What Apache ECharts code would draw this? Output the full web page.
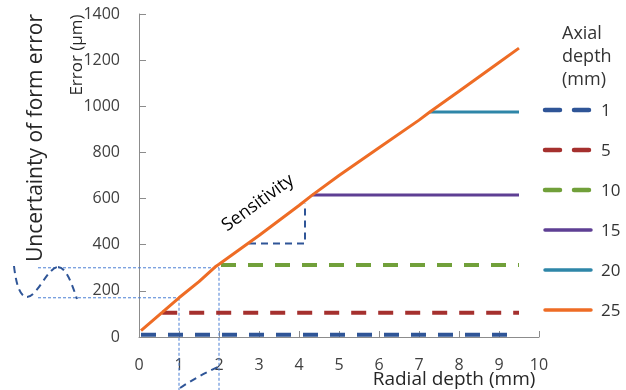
<!DOCTYPE html>
<html>
<head>
<meta charset="utf-8">
<script src="https://cdn.jsdelivr.net/npm/echarts@6/dist/echarts.min.js"></script>
<style>
html,body{margin:0;padding:0;background:#fff;}
#c{width:626px;height:390px;}
</style>
</head>
<body>
<div id="c"></div>
<script>
// ---- data ----
const axialDepths = ['1', '5', '10', '15', '20', '25'];
const seriesColors = ['#2f5597', '#a5302e', '#71a03a', '#5e3f94', '#2e86a8', '#ee6c25'];
const xTicks = [0, 1, 2, 3, 4, 5, 6, 7, 8, 9, 10];
const yTicks = [0, 200, 400, 600, 800, 1000, 1200, 1400];
// axial depth 25 mm: error rises with radial depth
const radialDepth25 = [0.05, 0.58, 1, 1.5, 1.9, 2, 3, 4, 4.33, 5, 6, 7, 7.27, 8, 9, 9.5];
const error25 = [28, 107, 170, 240, 303, 315, 440, 570, 615, 700, 820, 940, 975, 1065, 1190, 1252];
// axial depths 1..20 mm: plateaus
const plateauStartX = [0.05, 0.58, 2.05, 4.33, 7.27];
const plateauEndX = [9.5, 9.5, 9.5, 9.5, 9.5];
const plateauError = [10, 105, 312, 615, 975];
// sensitivity triangle
const triangleX = [2.75, 4.15, 4.15];
const triangleY = [405, 405, 580];
// uncertainty guide points
const guideX = [1, 2];
const guideY = [170, 300];

const FONT = 'Open Sans';
const chart = echarts.init(document.getElementById('c'), null, {renderer: 'canvas'});

const series = [];
for (let i = 0; i < 5; i++) {
  const dashed = i < 3;
  series.push({
    name: axialDepths[i],
    type: 'line',
    symbol: 'none',
    data: [[plateauStartX[i], plateauError[i]], [plateauEndX[i], plateauError[i]]],
    lineStyle: {color: seriesColors[i], width: dashed ? 4 : 3, type: dashed ? [15, 12] : 'solid'},
    itemStyle: {color: seriesColors[i]},
    z: 3
  });
}
series.push({
  name: axialDepths[5],
  type: 'line',
  symbol: 'none',
  data: radialDepth25.map((x, i) => [x, error25[i]]),
  lineStyle: {color: seriesColors[5], width: 3},
  itemStyle: {color: seriesColors[5]},
  z: 5
});
series.push({
  name: 'triangle',
  type: 'line',
  symbol: 'none',
  data: triangleX.map((x, i) => [x, triangleY[i]]),
  lineStyle: {color: '#2f5597', width: 2, type: [7, 5]},
  z: 2,
  silent: true
});

chart.setOption({
  animation: false,
  textStyle: {fontFamily: FONT},
  grid: {left: 139, right: 87, top: 14, bottom: 53, containLabel: false, outerBoundsMode: 'none'},
  legend: {
    data: axialDepths.map(n => ({name: n, icon: 'none'})),
    orient: 'vertical',
    left: 545,
    top: 98,
    itemWidth: 46,
    itemHeight: 17,
    itemGap: 23,
    itemStyle: {opacity: 0},
    textStyle: {fontSize: 17, lineHeight: 17, color: '#333', fontFamily: FONT},
    selectedMode: false
  },
  xAxis: {
    type: 'value', min: 0, max: 10, interval: 1,
    axisLine: {lineStyle: {color: '#8c8c8c', width: 1}},
    axisTick: {show: true, inside: true, length: 6, lineStyle: {color: '#8c8c8c'}},
    splitLine: {show: false},
    axisLabel: {fontSize: 16, color: '#404040', margin: 20, fontFamily: FONT,
      formatter: v => xTicks.includes(v) ? String(v) : ''}
  },
  yAxis: {
    type: 'value', min: 0, max: 1400, interval: 200,
    axisLine: {show: true, lineStyle: {color: '#8c8c8c', width: 1}},
    axisTick: {show: true, inside: true, length: 7, lineStyle: {color: '#8c8c8c'}},
    splitLine: {show: false},
    axisLabel: {fontSize: 16, color: '#404040', margin: 19, fontFamily: FONT,
      formatter: v => yTicks.includes(v) ? String(v) : ''}
  },
  series: series
});

// annotations positioned through the axes
const g = [];
const guideStyle = {stroke: '#4a7fd4', lineWidth: 1, lineDash: [3, 2]};
for (let i = 0; i < guideX.length; i++) {
  const p = chart.convertToPixel({gridIndex: 0}, [guideX[i], guideY[i]]);
  g.push({type: 'line', shape: {x1: 38, y1: p[1], x2: p[0], y2: p[1]}, style: guideStyle, z: 1});
  g.push({type: 'line', shape: {x1: p[0], y1: p[1], x2: p[0], y2: 390}, style: guideStyle, z: 1});
}
// legend keys drawn over legend placeholders
const legendRow0 = 110, legendRowStep = 40;
for (let i = 0; i < axialDepths.length; i++) {
  const dashed = i < 3;
  const y = legendRow0 + i * legendRowStep;
  g.push({type: 'line', shape: {x1: 545, y1: y, x2: 591, y2: y},
    style: {stroke: seriesColors[i], lineWidth: dashed ? 4.5 : 3.5, lineCap: 'round', lineDash: dashed ? [15, 14] : null}, z: 10});
}
// distribution sketches
const sketchStyle = {stroke: '#2f5597', lineWidth: 2, lineDash: [7, 5], fill: null};
g.push({type: 'bezierCurve', shape: {x1: 14, y1: 266, cpx1: 16, cpy1: 284, cpx2: 20, cpy2: 297, x2: 27, y2: 297}, style: sketchStyle, z: 1});
g.push({type: 'bezierCurve', shape: {x1: 27, y1: 297, cpx1: 37, cpy1: 297, cpx2: 48, cpy2: 267, x2: 58, y2: 267}, style: sketchStyle, z: 1});
g.push({type: 'bezierCurve', shape: {x1: 58, y1: 267, cpx1: 66, cpy1: 267, cpx2: 72, cpy2: 284, x2: 77, y2: 299}, style: sketchStyle, z: 1});
g.push({type: 'bezierCurve', shape: {x1: 180, y1: 388, cpx1: 198, cpy1: 376, x2: 218, y2: 367}, style: sketchStyle, z: 1});
// texts
g.push({type: 'text', x: 36, y: 138, rotation: Math.PI / 2,
  style: {text: 'Uncertainty of form error', fontSize: 21, fill: '#262626', fontFamily: FONT, align: 'center', verticalAlign: 'middle'}});
g.push({type: 'text', x: 77, y: 55, rotation: Math.PI / 2,
  style: {text: 'Error (μm)', fontSize: 17, fill: '#262626', fontFamily: FONT, align: 'center', verticalAlign: 'middle'}});
g.push({type: 'text', x: 454, y: 380,
  style: {text: 'Radial depth (mm)', fontSize: 19, fill: '#262626', fontFamily: FONT, align: 'center', verticalAlign: 'middle'}});
g.push({type: 'text', x: 258, y: 203, rotation: 36 * Math.PI / 180,
  style: {text: 'Sensitivity', fontSize: 18, fill: '#000', fontFamily: FONT, align: 'center', verticalAlign: 'middle'}});
const legendTitle = ['Axial', 'depth', '(mm)'];
legendTitle.forEach((t, i) => {
  g.push({type: 'text', x: 562, y: 34 + i * 23,
    style: {text: t, fontSize: 18, fill: '#333', fontFamily: FONT, align: 'left', verticalAlign: 'middle'}});
});
chart.setOption({graphic: g});
</script>
</body>
</html>
